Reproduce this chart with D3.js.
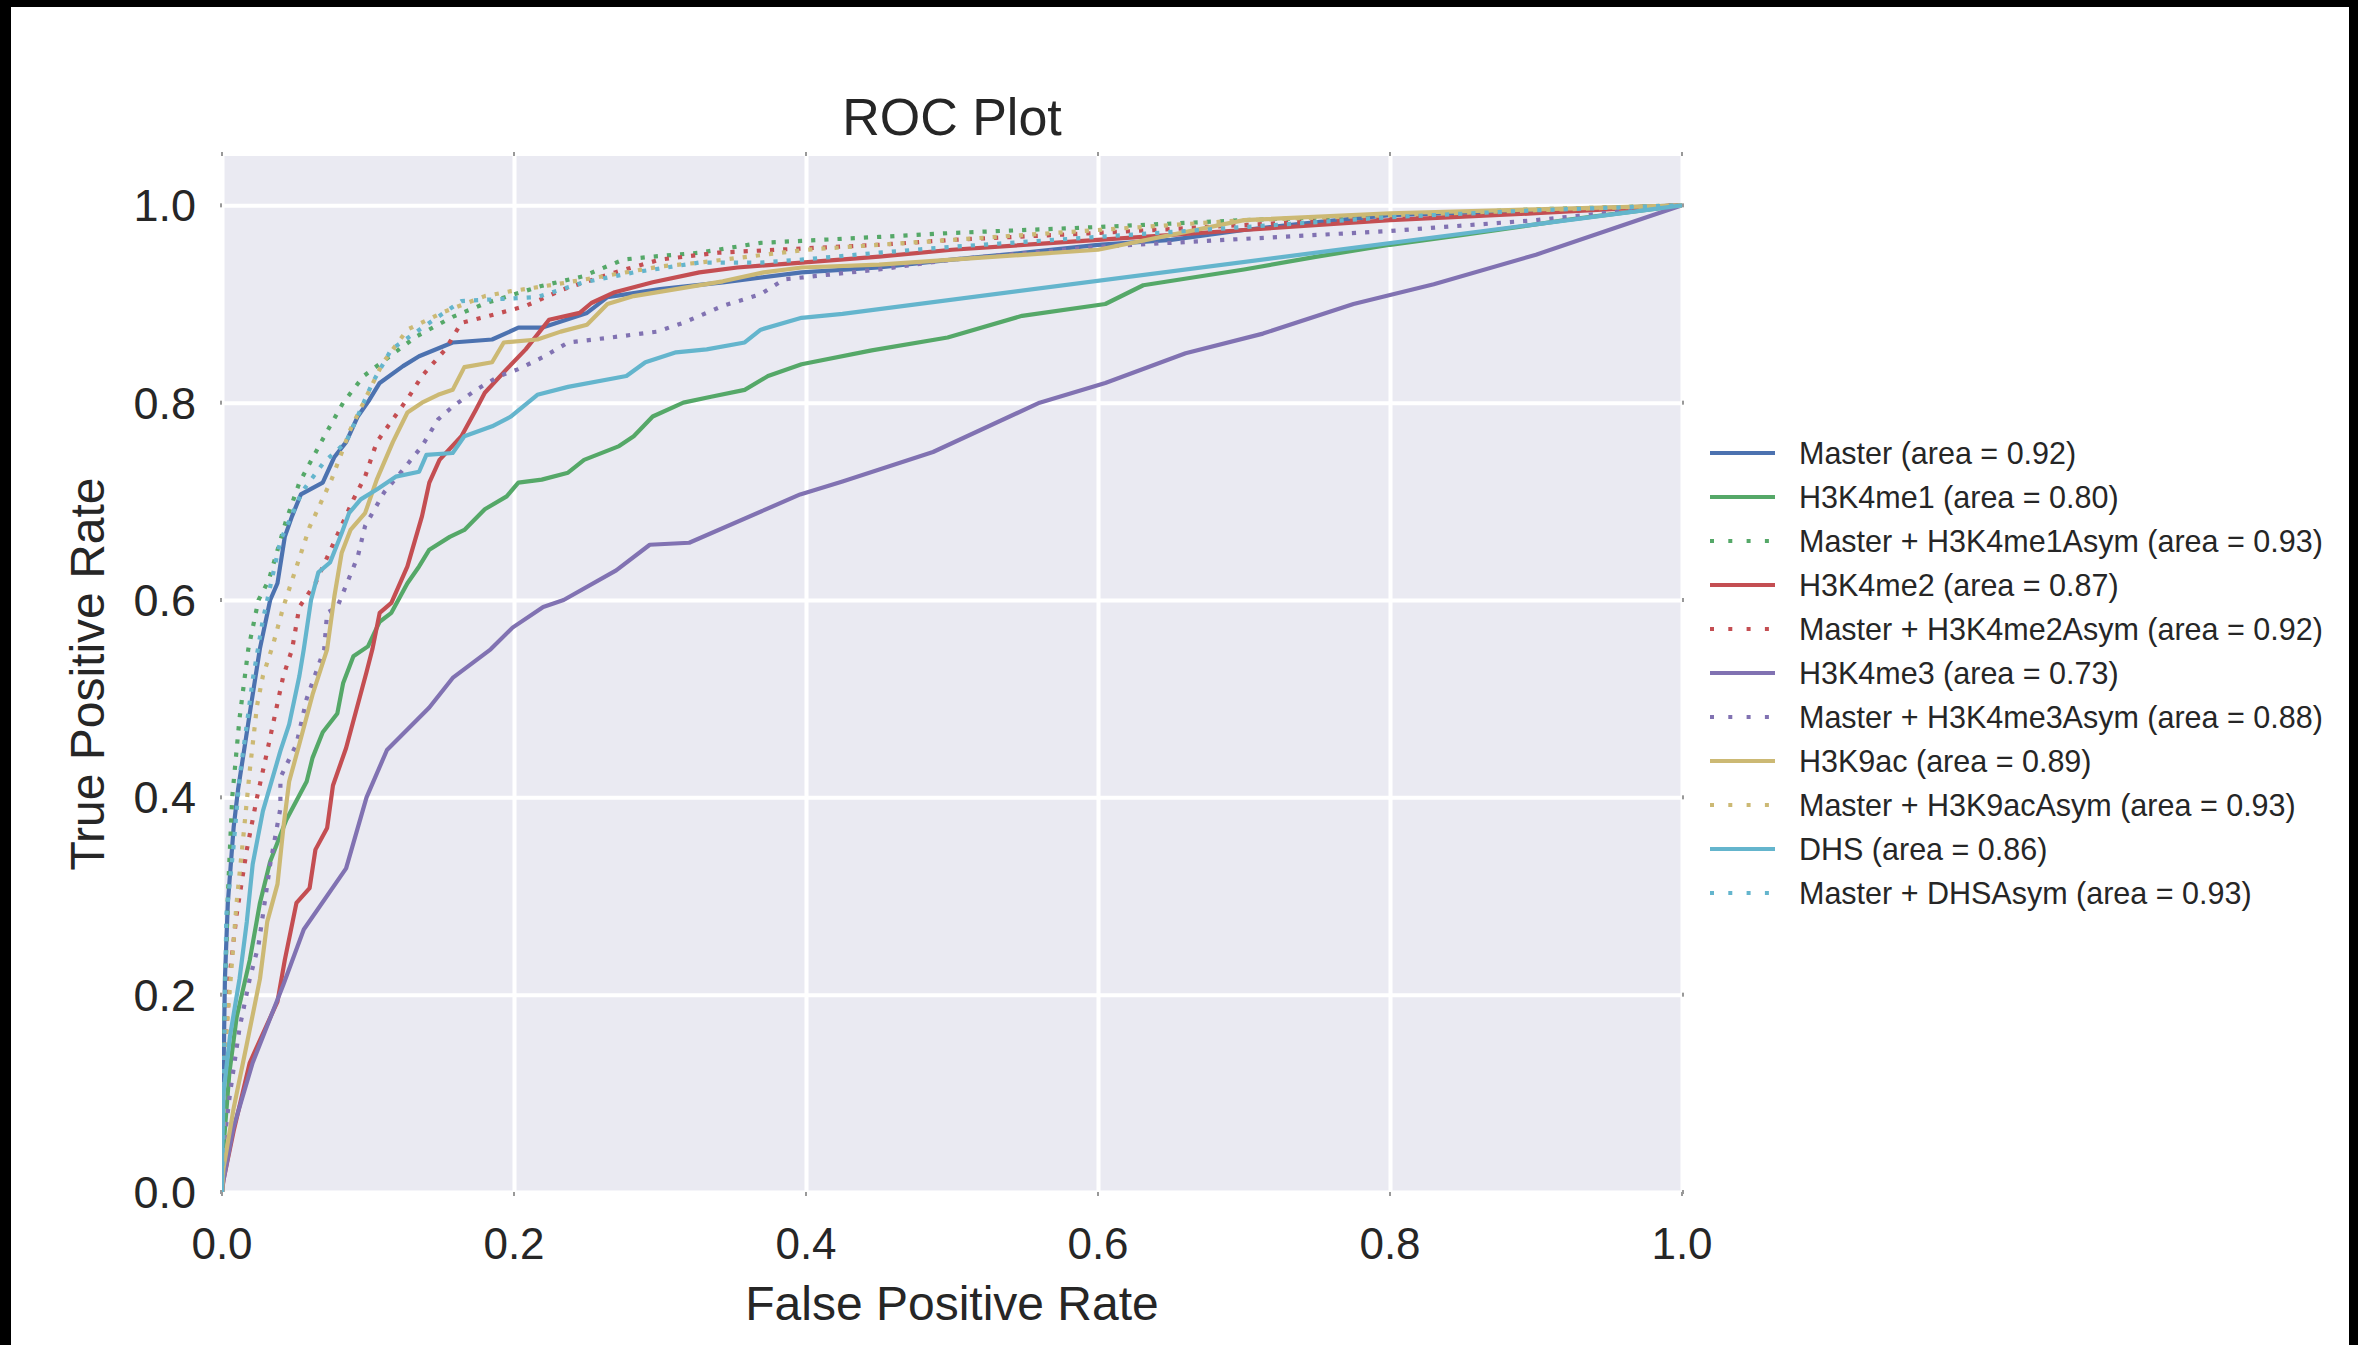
<!DOCTYPE html>
<html>
  <head>
    <meta charset="utf-8">
    <title>ROC Plot</title>
    <style>
      body { margin: 0; background: #fff; }
      text { font-family: "Liberation Sans", Arial, sans-serif; fill: #262626; }
    </style>
  </head>
  <body>
    <script src="https://cdn.jsdelivr.net/npm/d3@7/dist/d3.min.js" charset="utf-8"></script>
    <script type="text/javascript">
      // curve names and areas, in legend order
      var labels = [
        "Master", "H3K4me1", "Master + H3K4me1Asym", "H3K4me2", "Master + H3K4me2Asym",
        "H3K4me3", "Master + H3K4me3Asym", "H3K9ac", "Master + H3K9acAsym", "DHS", "Master + DHSAsym"
      ];
      var areas = [0.92, 0.80, 0.93, 0.87, 0.92, 0.73, 0.88, 0.89, 0.93, 0.86, 0.93];
      var xTicks = [0, 0.2, 0.4, 0.6, 0.8, 1.0];
      var yTicks = [0, 0.2, 0.4, 0.6, 0.8, 1.0];

      // [fpr, tpr] points
      var master = [[0,0],[0.0005,0.06],[0.001,0.12],[0.002,0.216],[0.004,0.293],[0.008,0.37],[0.011,0.408],[0.019,0.485],[0.026,0.551],[0.033,0.6],[0.038,0.617],[0.043,0.664],[0.048,0.685],[0.054,0.707],[0.069,0.719],[0.077,0.745],[0.085,0.76],[0.093,0.786],[0.101,0.803],[0.108,0.82],[0.124,0.837],[0.135,0.847],[0.158,0.861],[0.185,0.864],[0.203,0.876],[0.219,0.876],[0.25,0.891],[0.264,0.907],[0.3,0.915],[0.343,0.922],[0.397,0.932],[0.45,0.937],[0.5,0.945],[0.55,0.952],[0.6,0.96],[0.65,0.965],[0.7,0.975],[0.75,0.983],[0.8,0.99],[0.9,0.995],[1,1]];
      var h3k4me1 = [[0,0],[0.001,0.045],[0.005,0.12],[0.01,0.177],[0.019,0.235],[0.026,0.293],[0.033,0.335],[0.044,0.377],[0.058,0.416],[0.062,0.44],[0.069,0.466],[0.079,0.485],[0.083,0.516],[0.09,0.543],[0.1,0.553],[0.108,0.578],[0.116,0.587],[0.127,0.617],[0.135,0.634],[0.142,0.651],[0.156,0.664],[0.166,0.671],[0.18,0.692],[0.195,0.705],[0.203,0.719],[0.219,0.722],[0.237,0.729],[0.248,0.742],[0.272,0.756],[0.282,0.766],[0.295,0.786],[0.316,0.8],[0.335,0.806],[0.358,0.813],[0.374,0.827],[0.397,0.839],[0.445,0.853],[0.497,0.866],[0.548,0.888],[0.605,0.9],[0.631,0.919],[0.7,0.935],[0.75,0.948],[0.8,0.96],[0.85,0.97],[0.92,0.985],[1,1]];
      var h3k4me1Asym = [[0,0],[0.0005,0.08],[0.002,0.2],[0.004,0.3],[0.007,0.4],[0.012,0.48],[0.018,0.55],[0.025,0.6],[0.032,0.62],[0.044,0.681],[0.053,0.719],[0.069,0.763],[0.083,0.8],[0.097,0.827],[0.115,0.847],[0.133,0.867],[0.158,0.887],[0.181,0.901],[0.218,0.918],[0.247,0.928],[0.275,0.945],[0.295,0.948],[0.327,0.952],[0.369,0.962],[0.397,0.964],[0.45,0.968],[0.5,0.972],[0.6,0.978],[0.7,0.985],[0.8,0.99],[0.9,0.996],[1,1]];
      var h3k4me2 = [[0,0],[0.001,0.012],[0.008,0.062],[0.019,0.131],[0.038,0.193],[0.043,0.235],[0.051,0.293],[0.06,0.308],[0.064,0.347],[0.072,0.369],[0.076,0.412],[0.085,0.45],[0.099,0.527],[0.103,0.55],[0.108,0.587],[0.116,0.597],[0.127,0.634],[0.137,0.685],[0.142,0.719],[0.149,0.742],[0.164,0.766],[0.174,0.793],[0.18,0.81],[0.195,0.834],[0.208,0.854],[0.224,0.884],[0.245,0.891],[0.253,0.901],[0.269,0.912],[0.295,0.922],[0.327,0.932],[0.353,0.937],[0.397,0.942],[0.45,0.948],[0.5,0.955],[0.6,0.965],[0.7,0.975],[0.8,0.985],[0.9,0.992],[1,1]];
      var h3k4me2Asym = [[0,0],[0.001,0.12],[0.005,0.216],[0.01,0.281],[0.017,0.347],[0.024,0.4],[0.031,0.447],[0.042,0.523],[0.048,0.55],[0.053,0.593],[0.064,0.617],[0.09,0.702],[0.098,0.725],[0.106,0.76],[0.116,0.781],[0.128,0.806],[0.137,0.827],[0.153,0.854],[0.164,0.881],[0.183,0.888],[0.208,0.898],[0.234,0.915],[0.269,0.932],[0.3,0.945],[0.34,0.952],[0.38,0.955],[0.45,0.96],[0.5,0.965],[0.6,0.972],[0.7,0.98],[0.8,0.988],[0.9,0.995],[1,1]];
      var h3k4me3 = [[0,0],[0,0.004],[0.008,0.066],[0.021,0.131],[0.042,0.21],[0.056,0.266],[0.085,0.328],[0.099,0.4],[0.113,0.448],[0.142,0.491],[0.158,0.521],[0.184,0.55],[0.199,0.572],[0.22,0.593],[0.234,0.6],[0.27,0.63],[0.293,0.656],[0.32,0.658],[0.396,0.707],[0.425,0.72],[0.487,0.75],[0.56,0.8],[0.605,0.82],[0.66,0.85],[0.713,0.87],[0.775,0.9],[0.83,0.92],[0.9,0.95],[0.96,0.98],[1,1]];
      var h3k4me3Asym = [[0,0],[0.001,0.045],[0.0055,0.1],[0.012,0.166],[0.019,0.216],[0.025,0.25],[0.033,0.332],[0.04,0.389],[0.04,0.42],[0.051,0.454],[0.058,0.5],[0.07,0.55],[0.072,0.587],[0.079,0.593],[0.093,0.644],[0.098,0.675],[0.111,0.709],[0.124,0.732],[0.137,0.756],[0.148,0.783],[0.158,0.796],[0.174,0.813],[0.19,0.827],[0.203,0.834],[0.221,0.847],[0.237,0.861],[0.266,0.866],[0.298,0.872],[0.316,0.881],[0.343,0.898],[0.369,0.91],[0.385,0.925],[0.45,0.935],[0.5,0.945],[0.6,0.958],[0.7,0.966],[0.8,0.974],[0.9,0.985],[1,1]];
      var h3k9ac = [[0,0],[0.001,0.024],[0.008,0.085],[0.017,0.15],[0.026,0.216],[0.031,0.274],[0.038,0.312],[0.042,0.369],[0.046,0.416],[0.053,0.454],[0.062,0.504],[0.072,0.55],[0.077,0.604],[0.082,0.648],[0.088,0.671],[0.098,0.688],[0.106,0.722],[0.117,0.76],[0.127,0.79],[0.137,0.8],[0.148,0.808],[0.158,0.813],[0.166,0.836],[0.185,0.841],[0.193,0.861],[0.216,0.864],[0.232,0.872],[0.25,0.879],[0.264,0.9],[0.282,0.908],[0.343,0.923],[0.371,0.932],[0.397,0.937],[0.45,0.94],[0.5,0.945],[0.6,0.955],[0.7,0.985],[0.8,0.992],[0.9,0.996],[1,1]];
      var h3k9acAsym = [[0,0],[0.002,0.139],[0.0055,0.208],[0.01,0.293],[0.015,0.366],[0.019,0.427],[0.024,0.493],[0.028,0.523],[0.035,0.555],[0.042,0.593],[0.06,0.674],[0.075,0.722],[0.088,0.773],[0.11,0.84],[0.127,0.874],[0.152,0.892],[0.18,0.908],[0.198,0.913],[0.229,0.92],[0.3,0.938],[0.327,0.942],[0.4,0.955],[0.5,0.965],[0.6,0.975],[0.7,0.985],[0.8,0.99],[0.9,0.995],[1,1]];
      var dhs = [[0,0],[0,0.03],[0.001,0.1],[0.0055,0.158],[0.012,0.216],[0.017,0.274],[0.021,0.332],[0.028,0.386],[0.04,0.447],[0.046,0.474],[0.053,0.523],[0.056,0.55],[0.061,0.6],[0.066,0.628],[0.074,0.638],[0.082,0.668],[0.087,0.688],[0.095,0.702],[0.106,0.712],[0.119,0.725],[0.135,0.73],[0.14,0.747],[0.158,0.749],[0.166,0.766],[0.185,0.776],[0.198,0.786],[0.216,0.808],[0.237,0.816],[0.277,0.827],[0.29,0.841],[0.311,0.851],[0.332,0.854],[0.358,0.861],[0.369,0.874],[0.397,0.886],[0.425,0.89],[1,1]];
      var dhsAsym = [[0,0],[0.001,0.1],[0.003,0.281],[0.0077,0.347],[0.012,0.42],[0.017,0.474],[0.021,0.519],[0.028,0.58],[0.04,0.66],[0.055,0.71],[0.07,0.74],[0.085,0.76],[0.103,0.82],[0.116,0.854],[0.145,0.884],[0.164,0.903],[0.216,0.907],[0.248,0.922],[0.282,0.932],[0.327,0.942],[0.369,0.942],[0.397,0.945],[0.45,0.952],[0.5,0.958],[0.6,0.968],[0.7,0.978],[0.8,0.988],[0.9,0.995],[1,1]];

      var curves = [master, h3k4me1, h3k4me1Asym, h3k4me2, h3k4me2Asym,
                    h3k4me3, h3k4me3Asym, h3k9ac, h3k9acAsym, dhs, dhsAsym];

      // styles
      var colors = ["#4C72B0", "#55A868", "#55A868", "#C44E52", "#C44E52",
                    "#8172B2", "#8172B2", "#CCB974", "#CCB974", "#64B5CD", "#64B5CD"];
      var dotted = [false, false, true, false, true, false, true, false, true, false, true];

      var width = 2358, height = 1345;
      var plotLeft = 222, plotRight = 1682, plotTop = 156, plotBottom = 1192;

      var svg = d3.select("body").append("svg")
                  .attr("width", width)
                  .attr("height", height);

      svg.append("rect").attr("width", width).attr("height", height).attr("fill", "#fff");

      var x = d3.scaleLinear().domain([0, 1]).range([plotLeft, plotRight]);
      var y = d3.scaleLinear().domain([0, 1.05]).range([plotBottom, plotTop]);

      svg.append("clipPath").attr("id", "plot")
         .append("rect").attr("x", plotLeft).attr("y", plotTop)
         .attr("width", plotRight - plotLeft).attr("height", plotBottom - plotTop);

      svg.append("rect")
         .attr("x", plotLeft).attr("y", plotTop)
         .attr("width", plotRight - plotLeft).attr("height", plotBottom - plotTop)
         .attr("fill", "#EAEAF2");

      // grid
      svg.append("g").attr("transform", "translate(0," + plotBottom + ")")
         .call(d3.axisBottom(x).tickValues(xTicks).tickSize(-(plotBottom - plotTop)).tickFormat(""))
         .call(function(g) {
           g.select(".domain").remove();
           g.selectAll("line").attr("stroke", "#fff").attr("stroke-width", 4);
         });
      svg.append("g").attr("transform", "translate(" + plotLeft + ",0)")
         .call(d3.axisLeft(y).tickValues(yTicks).tickSize(-(plotRight - plotLeft)).tickFormat(""))
         .call(function(g) {
           g.select(".domain").remove();
           g.selectAll("line").attr("stroke", "#fff").attr("stroke-width", 4);
         });

      // little grey tick marks on all four sides
      var marks = svg.append("g").attr("fill", "#999");
      xTicks.forEach(function(t) {
        marks.append("rect").attr("x", x(t) - 1).attr("y", plotTop - 4).attr("width", 2).attr("height", 4);
        marks.append("rect").attr("x", x(t) - 1).attr("y", plotBottom).attr("width", 2).attr("height", 4);
      });
      yTicks.forEach(function(t) {
        marks.append("rect").attr("x", plotLeft - 2).attr("y", y(t) - 2).attr("width", 2).attr("height", 4);
        marks.append("rect").attr("x", plotRight).attr("y", y(t) - 2).attr("width", 2).attr("height", 4);
      });

      // tick labels
      svg.append("g").selectAll("text").data(xTicks).enter().append("text")
         .attr("x", function(d) { return x(d); })
         .attr("y", 1259)
         .attr("text-anchor", "middle")
         .attr("font-size", 44)
         .text(function(d) { return d3.format(".1f")(d); });
      svg.append("g").selectAll("text").data(yTicks).enter().append("text")
         .attr("x", 196)
         .attr("y", function(d) { return y(d) + 16; })
         .attr("text-anchor", "end")
         .attr("font-size", 45)
         .text(function(d) { return d3.format(".1f")(d); });

      // curves
      var line = d3.line()
                   .x(function(d) { return x(d[0]); })
                   .y(function(d) { return y(d[1]); });

      svg.append("g").attr("clip-path", "url(#plot)")
         .selectAll("path").data(curves).enter().append("path")
         .attr("d", line)
         .attr("fill", "none")
         .attr("stroke", function(d, i) { return colors[i]; })
         .attr("stroke-width", 4.2)
         .attr("stroke-linejoin", "round")
         .attr("stroke-dasharray", function(d, i) { return dotted[i] ? "4.2,9" : null; });

      // titles
      svg.append("text").attr("x", (plotLeft + plotRight) / 2).attr("y", 135)
         .attr("text-anchor", "middle").attr("font-size", 52).text("ROC Plot");
      svg.append("text").attr("x", (plotLeft + plotRight) / 2).attr("y", 1320)
         .attr("text-anchor", "middle").attr("font-size", 48).text("False Positive Rate");
      svg.append("text")
         .attr("transform", "translate(104," + ((plotTop + plotBottom) / 2) + ") rotate(-90)")
         .attr("text-anchor", "middle").attr("font-size", 48).text("True Positive Rate");

      // legend
      var legend = svg.append("g").selectAll("g").data(labels).enter().append("g")
                      .attr("transform", function(d, i) { return "translate(1710," + (453 + 44 * i) + ")"; });
      legend.append("line")
            .attr("x1", 0).attr("x2", 65).attr("y1", 0).attr("y2", 0)
            .attr("stroke", function(d, i) { return colors[i]; })
            .attr("stroke-width", 4)
            .attr("stroke-dasharray", function(d, i) { return dotted[i] ? "4,14.3" : null; });
      legend.append("text")
            .attr("x", 89).attr("y", 10.5)
            .attr("font-size", 30.5)
            .text(function(d, i) { return d + " (area = " + areas[i].toFixed(2) + ")"; });

      // black frame bits along the edges
      svg.append("rect").attr("x", 0).attr("y", 0).attr("width", width).attr("height", 7).attr("fill", "#000");
      svg.append("rect").attr("x", 0).attr("y", 0).attr("width", 11).attr("height", height).attr("fill", "#000");
      svg.append("rect").attr("x", 2349).attr("y", 0).attr("width", 9).attr("height", height).attr("fill", "#000");
    </script>
  </body>
</html>
